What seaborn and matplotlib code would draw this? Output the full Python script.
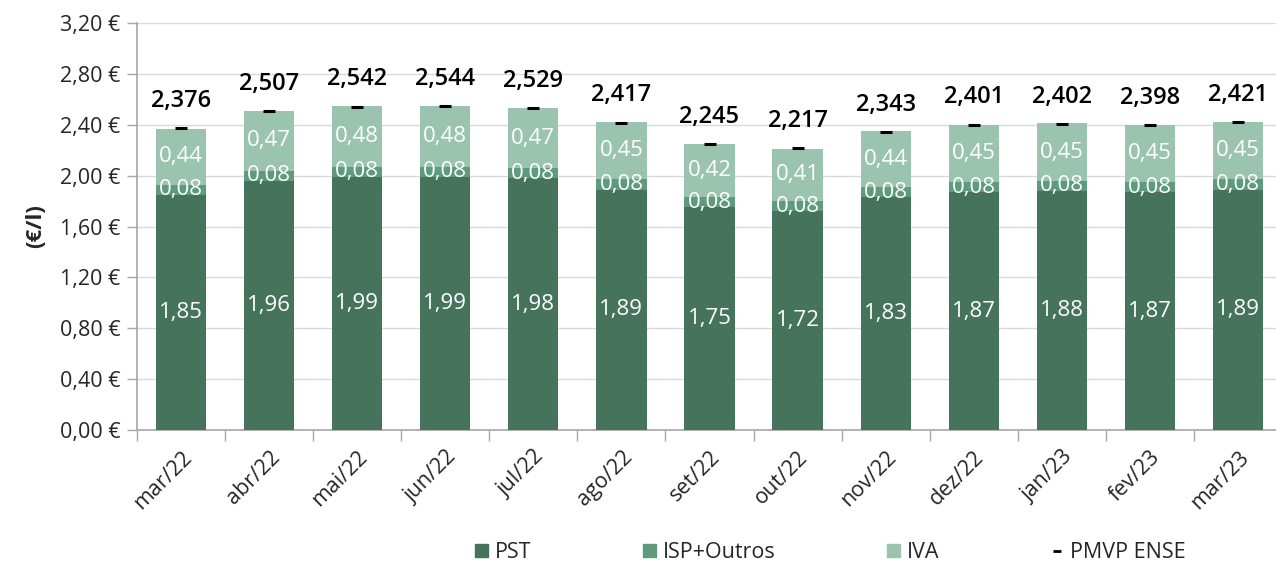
import numpy as np
import matplotlib
matplotlib.use("Agg")
import matplotlib.pyplot as plt
import matplotlib.ticker as mticker
from matplotlib.patches import Patch
from matplotlib.lines import Line2D
import seaborn as sns

# ── Data ──────────────────────────────────────────────────────────────────────
months = ["mar/22", "abr/22", "mai/22", "jun/22", "jul/22", "ago/22", "set/22",
          "out/22", "nov/22", "dez/22", "jan/23", "fev/23", "mar/23"]
pst = [1.85, 1.96, 1.99, 1.99, 1.98, 1.89, 1.75, 1.72, 1.83, 1.87, 1.88, 1.87, 1.89]
isp = [0.08, 0.08, 0.08, 0.08, 0.08, 0.08, 0.08, 0.08, 0.08, 0.08, 0.08, 0.08, 0.08]
iva = [0.44, 0.47, 0.48, 0.48, 0.47, 0.45, 0.42, 0.41, 0.44, 0.45, 0.45, 0.45, 0.45]
pmvp = [2.376, 2.507, 2.542, 2.544, 2.529, 2.417, 2.245, 2.217, 2.343, 2.401, 2.402, 2.398, 2.421]

# ── Style ─────────────────────────────────────────────────────────────────────
C_PST = "#46735c"
C_ISP = "#5e9a7c"
C_IVA = "#9bc4b0"
GRID = "#d9d9d9"
AXIS = "#a6a6a6"

sns.set_style("white")
plt.rcParams["font.family"] = ["Open Sans", "DejaVu Sans"]

fig = plt.figure(figsize=(12.76, 5.65), dpi=100)
ax = fig.add_axes([137 / 1276, 1 - 430 / 565, (1282 - 137) / 1276, (430 - 23) / 565])

pst_a = np.array(pst)
isp_a = np.array(isp)
iva_a = np.array(iva)
bw = 0.57

sns.barplot(x=months, y=pst_a + isp_a + iva_a, color=C_IVA, width=bw, ax=ax,
            saturation=1, linewidth=0, zorder=2)
sns.barplot(x=months, y=pst_a + isp_a, color=C_ISP, width=bw, ax=ax,
            saturation=1, linewidth=0, zorder=3)
sns.barplot(x=months, y=pst_a, color=C_PST, width=bw, ax=ax,
            saturation=1, linewidth=0, zorder=4)
sns.scatterplot(x=months, y=pmvp, marker="_", s=70, linewidth=2.2,
                color="black", ax=ax, zorder=6)

# segment labels
fmt = lambda v: f"{v:.2f}".replace(".", ",")
for i in range(len(months)):
    ax.text(i, pst[i] / 2, fmt(pst[i]), ha="center", va="center",
            color="white", fontsize=16, zorder=7)
    ax.text(i, pst[i] + isp[i] / 2, fmt(isp[i]), ha="center", va="center",
            color="white", fontsize=16, zorder=7)
    ax.text(i, pst[i] + isp[i] + iva[i] / 2, fmt(iva[i]), ha="center", va="center",
            color="white", fontsize=16, zorder=7)
    ax.annotate(f"{pmvp[i]:.3f}".replace(".", ","), (i, pmvp[i]),
                xytext=(0, 11), textcoords="offset points", ha="center",
                va="bottom", fontsize=17, fontweight="semibold", color="black")

# axes
ax.set_ylim(0, 3.2)
ax.set_xlim(-0.5, len(months) - 0.5)
ax.yaxis.set_major_locator(mticker.MultipleLocator(0.4))
ax.yaxis.set_major_formatter(mticker.FuncFormatter(lambda v, p: f"{v:.2f} €".replace(".", ",")))
ax.grid(axis="y", color=GRID, linewidth=1, zorder=0)
ax.set_axisbelow(True)
for s in ["top", "right"]:
    ax.spines[s].set_visible(False)
for s in ["left", "bottom"]:
    ax.spines[s].set_color(AXIS)
    ax.spines[s].set_linewidth(1.2)

ax.tick_params(axis="y", length=7, width=1, color=AXIS, labelsize=15.5, pad=5,
               labelcolor="#262626", left=True)
ax.set_xticks(np.arange(-0.5, len(months), 1.0), minor=True)
ax.tick_params(axis="x", which="minor", length=8, width=1, color=AXIS, bottom=True)
ax.tick_params(axis="x", which="major", length=0, labelsize=15.5, pad=12,
               labelcolor="#262626")
plt.setp(ax.get_xticklabels(), rotation=45, ha="right", rotation_mode="anchor")
ax.set_xlabel("")
ax.set_ylabel("(€/l)", fontsize=16, fontweight="bold", labelpad=10)

handles = [Patch(color=C_PST), Patch(color=C_ISP), Patch(color=C_IVA),
           Line2D([], [], marker="_", color="black", linestyle="none",
                  markersize=6, markeredgewidth=2)]
fig.legend(handles, ["PST", "ISP+Outros", "IVA", "PMVP ENSE"], ncol=4,
           loc="center", bbox_to_anchor=(0.651, 0.022), frameon=False,
           fontsize=15.5, handlelength=0.6, handleheight=0.6, handletextpad=0.3,
           columnspacing=5.2)

fig.savefig("out.png", dpi=100)
